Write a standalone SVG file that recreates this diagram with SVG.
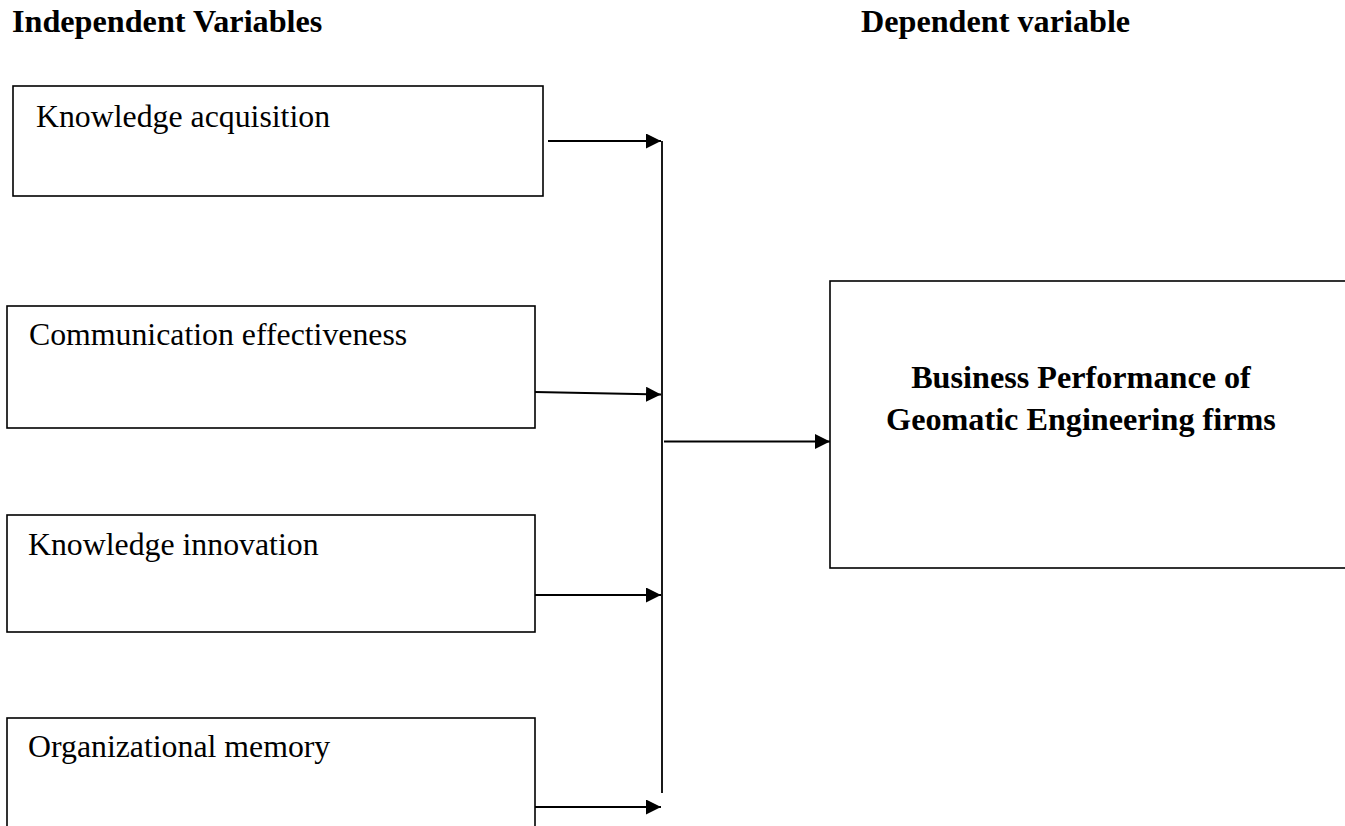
<svg xmlns="http://www.w3.org/2000/svg" width="1345" height="826" viewBox="0 0 1345 826">
<style>
.box{fill:#fff;stroke:#000;stroke-width:1.6}
.lbl{font-family:"Liberation Serif","Times New Roman",serif;font-size:31.8px;fill:#000}
.hdr{font-family:"Liberation Serif","Times New Roman",serif;font-size:32.2px;font-weight:bold;fill:#000}
.conn{stroke:#000;stroke-width:2.2;fill:none}
.bus{stroke:#000;stroke-width:1.8;fill:none}
</style>
<defs>
<marker id="ah" markerUnits="userSpaceOnUse" markerWidth="16" markerHeight="16" refX="15" refY="7.5" orient="auto">
<path d="M0,0 L15,7.5 L0,15 z" fill="#000"/>
</marker>
</defs>
<rect width="1345" height="826" fill="#fff"/>
<g id="headers">
<text class="hdr" x="12" y="32">Independent Variables</text>
<text class="hdr" x="861" y="32">Dependent variable</text>
</g>
<g id="node-knowledge-acquisition">
<rect class="box" x="13" y="86" width="530" height="110"/>
<text class="lbl" x="36" y="127">Knowledge acquisition</text>
</g>
<g id="node-communication-effectiveness">
<rect class="box" x="7" y="306" width="528" height="122"/>
<text class="lbl" x="29" y="345">Communication effectiveness</text>
</g>
<g id="node-knowledge-innovation">
<rect class="box" x="7" y="515" width="528" height="117"/>
<text class="lbl" x="28" y="555">Knowledge innovation</text>
</g>
<g id="node-organizational-memory">
<rect class="box" x="7" y="718" width="528" height="130"/>
<text class="lbl" x="28" y="757">Organizational memory</text>
</g>
<g id="node-business-performance">
<rect class="box" x="830" y="281" width="530" height="287"/>
<text class="hdr" x="1081" y="388" text-anchor="middle">Business Performance of</text>
<text class="hdr" x="1081" y="430" text-anchor="middle">Geomatic Engineering firms</text>
</g>
<g id="connectors">
<line class="conn" x1="548" y1="141" x2="661" y2="141" marker-end="url(#ah)"/>
<line class="conn" x1="535" y1="392" x2="661" y2="394.5" marker-end="url(#ah)"/>
<line class="conn" x1="535" y1="595" x2="661" y2="595" marker-end="url(#ah)"/>
<line class="conn" x1="535" y1="807" x2="661" y2="807" marker-end="url(#ah)"/>
<line class="bus" x1="662" y1="141" x2="662" y2="793"/>
<line class="conn" x1="664" y1="441.5" x2="830" y2="441.5" marker-end="url(#ah)"/>
</g>
</svg>
